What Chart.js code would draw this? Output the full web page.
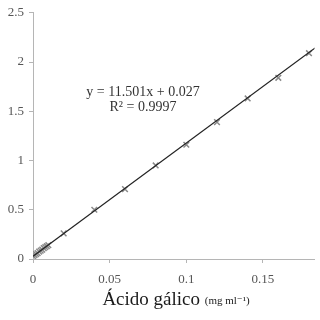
<!DOCTYPE html>
<html>
<head>
<meta charset="utf-8">
<script src="https://cdn.jsdelivr.net/npm/chart.js@4.4.0/dist/chart.umd.min.js"></script>
<style>
  html, body { margin: 0; padding: 0; background: #fff; }
  #wrap { width: 320px; height: 320px; }
</style>
</head>
<body>
<div id="wrap"><canvas id="curva"></canvas></div>
<script>
// concentraciones (mg/ml) y absorbancias
var concentracion = [0, 0.001, 0.002, 0.003, 0.004, 0.005, 0.006, 0.007, 0.008, 0.009, 0.01,
                     0.02, 0.04, 0.06, 0.08, 0.1, 0.12, 0.14, 0.16, 0.18];
var absorbancia = [0.03, 0.04, 0.05, 0.06, 0.075, 0.085, 0.095, 0.11, 0.12, 0.13, 0.14,
                   0.26, 0.5, 0.71, 0.95, 1.16, 1.39, 1.63, 1.84, 2.09];
// extremos de la recta de ajuste
var rectaX = [0, 0.184];
var rectaY = [0.027, 2.143];
var ecuacion = "y = 11.501x + 0.027";
var r2 = "R² = 0.9997";

var serif = "'Liberation Serif', 'DejaVu Serif', serif";

var puntos = concentracion.map(function (x, i) { return { x: x, y: absorbancia[i] }; });
var recta = rectaX.map(function (x, i) { return { x: x, y: rectaY[i] }; });

var textos = {
  id: "textos",
  afterDraw: function (chart) {
    var ctx = chart.ctx;
    ctx.save();
    ctx.fillStyle = "#333";
    ctx.textAlign = "center";
    ctx.textBaseline = "middle";
    ctx.font = "14px " + serif;
    ctx.fillText(ecuacion, 143, 92);
    ctx.fillText(r2, 143, 107);

    // titulo del eje x con dos tamanos
    ctx.fillStyle = "#1a1a1a";
    ctx.textAlign = "left";
    ctx.textBaseline = "alphabetic";
    ctx.font = "19px " + serif;
    var t1 = "Ácido gálico ";
    var w1 = ctx.measureText(t1).width;
    ctx.font = "11px " + serif;
    var t2 = "(mg ml⁻¹)";
    var w2 = ctx.measureText(t2).width;
    var x0 = 176 - (w1 + w2) / 2;
    ctx.font = "19px " + serif;
    ctx.fillText(t1, x0, 305);
    ctx.font = "11px " + serif;
    ctx.fillText(t2, x0 + w1, 304);
    ctx.restore();
  }
};

var ctx = document.getElementById("curva").getContext("2d");
var grafico = new Chart(ctx, {
  type: "scatter",
  data: {
    datasets: [
      {
        label: "recta",
        data: recta,
        showLine: true,
        borderColor: "#222",
        borderWidth: 1.3,
        pointRadius: 0,
        order: 1
      },
      {
        label: "puntos",
        data: puntos,
        pointStyle: "crossRot",
        pointRadius: 4,
        borderColor: "#8a8a8a",
        borderWidth: 1.5,
        order: 2
      }
    ]
  },
  options: {
    responsive: true,
    maintainAspectRatio: false,
    animation: false,
    layout: { padding: { top: 9, right: 0, bottom: 0, left: 0 } },
    plugins: {
      legend: { display: false },
      tooltip: { enabled: false }
    },
    scales: {
      x: {
        type: "linear",
        min: 0,
        max: 0.1836,
        afterFit: function (scale) { scale.height = 61; },
        grid: { drawOnChartArea: false, drawTicks: true, tickLength: 4, color: "#b5b5b5" },
        border: { color: "#b5b5b5" },
        ticks: {
          stepSize: 0.05,
          includeBounds: false,
          maxRotation: 0,
          padding: 9,
          color: "#555",
          font: { family: serif, size: 13 },
          callback: function (v) { return String(Math.round(v * 1000) / 1000); }
        }
      },
      y: {
        min: 0,
        max: 2.5,
        afterFit: function (scale) { scale.width = 33; },
        grid: { drawOnChartArea: false, drawTicks: true, tickLength: 4, color: "#b5b5b5" },
        border: { color: "#b5b5b5" },
        ticks: {
          stepSize: 0.5,
          padding: 5,
          color: "#555",
          font: { family: serif, size: 13 },
          callback: function (v) { return String(v); }
        }
      }
    }
  },
  plugins: [textos]
});
</script>
</body>
</html>
